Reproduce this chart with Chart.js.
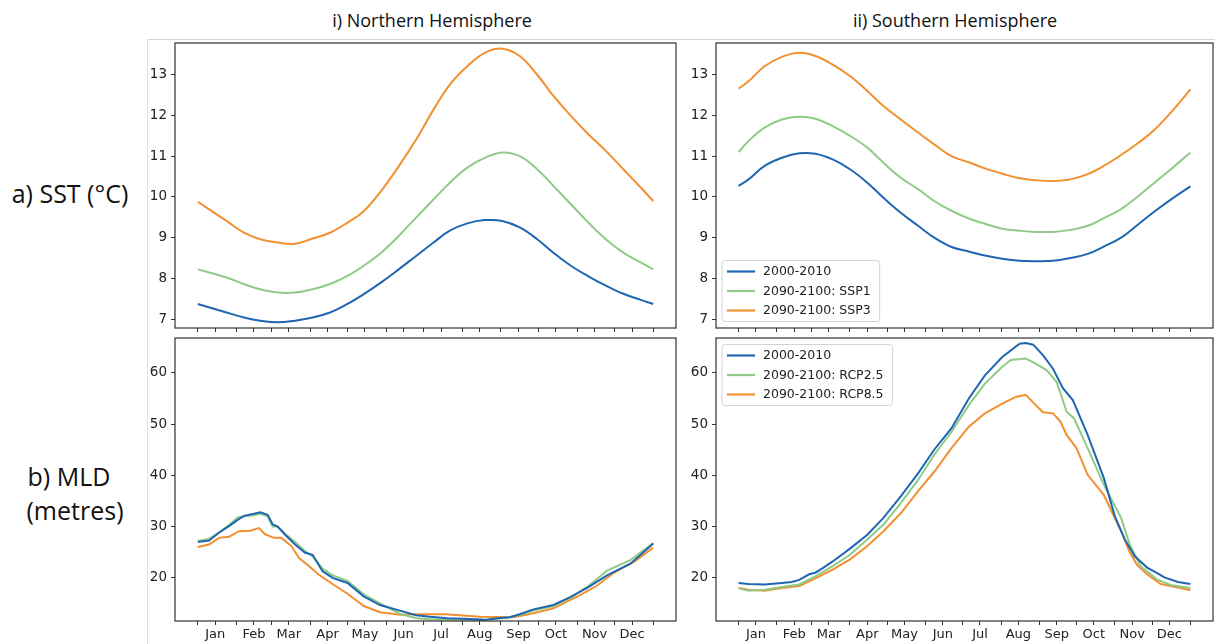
<!DOCTYPE html>
<html>
<head>
<meta charset="utf-8">
<script src="https://cdn.jsdelivr.net/npm/chart.js"></script>
<style>
  body { margin: 0; background: #fff; }
  #wrap { position: relative; width: 1215px; height: 644px; overflow: hidden; background: #fff; font-family: 'Open Sans', sans-serif; }
  canvas { position: absolute; }
  .txt { position: absolute; color: #111; white-space: nowrap; transform: translate(-50%, -50%); }
  .title { font-size: 18px; }
  .row { font-size: 25px; }
  .frameH { position: absolute; left: 147px; top: 39px; width: 1068px; height: 1px; background: #d6d6d6; }
  .frameV { position: absolute; left: 147px; top: 39px; width: 1px; height: 605px; background: #e2e2e2; }
</style>
</head>
<body>
<div id="wrap">
  <div class="frameH"></div>
  <div class="frameV"></div>
  <div class="txt title" style="left:432px; top:20px;">i) Northern Hemisphere</div>
  <div class="txt title" style="left:955px; top:20px;">ii) Southern Hemisphere</div>
  <div class="txt row" style="left:70px; top:193px;">a) SST (°C)</div>
  <div class="txt row" style="left:69px; top:476px;">b) MLD</div>
  <div class="txt row" style="left:75px; top:510px;">(metres)</div>
  <canvas id="sstNorth"></canvas>
  <canvas id="sstSouth"></canvas>
  <canvas id="mldNorth"></canvas>
  <canvas id="mldSouth"></canvas>
</div>
<script>
// axis ticks
const monthNames = ['Jan', 'Feb', 'Mar', 'Apr', 'May', 'Jun', 'Jul', 'Aug', 'Sep', 'Oct', 'Nov', 'Dec'];
const monthStarts = [0, 31, 59, 90, 120, 151, 181, 212, 243, 273, 304, 334, 365];
const monthMids = [14, 45, 73, 104, 134, 165, 195, 226, 257, 287, 318, 348];
const sstTicks = [7, 8, 9, 10, 11, 12, 13];
const mldTicks = [20, 30, 40, 50, 60];

const sstLabels = ['2000-2010', '2090-2100: SSP1', '2090-2100: SSP3'];
const mldLabels = ['2000-2010', '2090-2100: RCP2.5', '2090-2100: RCP8.5'];

// SST, northern hemisphere (day of year)
const nhSstDays = [0, 23, 37, 50, 64, 78, 92, 106, 120, 133, 147, 161, 175, 189, 202, 216, 230, 244, 258, 272, 285, 299, 313, 327, 341, 355, 365];
const nhSstBase = [7.37, 7.16, 7.04, 6.96, 6.92, 6.96, 7.04, 7.16, 7.37, 7.61, 7.9, 8.22, 8.55, 8.88, 9.17, 9.35, 9.43, 9.41, 9.25, 8.96, 8.63, 8.31, 8.05, 7.82, 7.62, 7.47, 7.37];
const nhSstSsp1 = [8.22, 8.02, 7.86, 7.73, 7.65, 7.65, 7.73, 7.86, 8.06, 8.31, 8.63, 9.04, 9.49, 9.94, 10.35, 10.72, 10.96, 11.09, 11.0, 10.68, 10.27, 9.82, 9.37, 8.96, 8.63, 8.39, 8.22];
const nhSstSsp3 = [9.88, 9.41, 9.12, 8.96, 8.88, 8.85, 8.98, 9.12, 9.37, 9.65, 10.15, 10.75, 11.41, 12.15, 12.76, 13.21, 13.54, 13.64, 13.46, 13.0, 12.48, 11.99, 11.54, 11.13, 10.68, 10.23, 9.9];

// SST, southern hemisphere
const shSstDays = [0, 8, 21, 35, 49, 62, 76, 90, 104, 117, 131, 145, 158, 172, 186, 199, 213, 227, 240, 254, 268, 282, 295, 309, 323, 336, 350, 365];
const shSstBase = [10.27, 10.43, 10.76, 10.96, 11.07, 11.06, 10.92, 10.68, 10.35, 9.98, 9.61, 9.29, 9.0, 8.77, 8.66, 8.56, 8.48, 8.43, 8.42, 8.43, 8.5, 8.6, 8.78, 9.0, 9.33, 9.64, 9.95, 10.26];
const shSstSsp1 = [11.1, 11.37, 11.7, 11.9, 11.97, 11.92, 11.74, 11.5, 11.21, 10.84, 10.47, 10.19, 9.9, 9.66, 9.47, 9.34, 9.22, 9.17, 9.14, 9.14, 9.19, 9.29, 9.48, 9.7, 10.02, 10.35, 10.7, 11.09];
const shSstSsp3 = [12.66, 12.84, 13.21, 13.44, 13.54, 13.46, 13.25, 12.97, 12.6, 12.23, 11.9, 11.58, 11.29, 11.0, 10.85, 10.7, 10.57, 10.46, 10.41, 10.39, 10.43, 10.56, 10.76, 11.03, 11.33, 11.65, 12.1, 12.64];

// MLD, northern hemisphere
const nhMldBaseDays = [0, 9, 17, 25, 32, 37, 45, 50, 56, 60, 64, 70, 78, 86, 92, 100, 108, 120, 133, 146, 162, 175, 186, 200, 213, 230, 240, 250, 258, 269, 285, 299, 313, 328, 347, 365];
const nhMldBase = [27.0, 27.3, 28.8, 30.1, 31.3, 32.1, 32.5, 32.8, 32.3, 30.4, 30.0, 28.4, 26.5, 24.9, 24.5, 21.3, 20.0, 19.0, 16.4, 14.7, 13.6, 12.7, 12.4, 12.1, 12.0, 11.8, 12.1, 12.3, 12.9, 13.85, 14.7, 16.3, 18.2, 20.5, 22.8, 26.7];
const nhMldRcp26 = [27.2, 27.6, 28.9, 30.3, 31.8, 32.0, 32.2, 32.5, 32.0, 30.0, 30.0, 28.6, 27.0, 25.2, 24.2, 21.8, 20.5, 19.4, 16.8, 15.0, 13.0, 12.1, 11.9, 11.8, 11.8, 11.8, 12.0, 12.3, 12.8, 13.6, 14.5, 16.2, 18.4, 21.4, 23.5, 26.8];
const nhMldRcp85Days = [0, 9, 17, 25, 33, 42, 49, 54, 61, 67, 75, 81, 89, 97, 108, 120, 133, 146, 162, 175, 199, 226, 253, 269, 285, 306, 320, 333, 350, 365];
const nhMldRcp85 = [26.0, 26.5, 27.8, 28.0, 29.1, 29.2, 29.7, 28.5, 27.8, 27.8, 26.2, 23.9, 22.3, 20.6, 18.8, 16.9, 14.5, 13.3, 12.8, 12.9, 12.9, 12.4, 12.3, 13.1, 14.05, 16.6, 18.5, 20.9, 23.2, 25.9];

// MLD, southern hemisphere
const shMldBaseDays = [0, 8, 21, 35, 43, 49, 57, 62, 68, 76, 90, 104, 117, 131, 145, 158, 172, 186, 199, 213, 227, 232, 238, 246, 254, 262, 270, 282, 295, 304, 312, 320, 330, 336, 344, 355, 365];
const shMldBase = [19.0, 18.8, 18.7, 19.0, 19.2, 19.6, 20.7, 21.0, 21.9, 23.2, 25.7, 28.4, 31.7, 35.9, 40.4, 45.0, 49.2, 55.0, 59.5, 63.1, 65.7, 65.8, 65.5, 63.4, 60.8, 57.0, 54.7, 47.9, 39.5, 32.0, 27.5, 24.2, 22.0, 21.2, 20.1, 19.2, 18.8];
const shMldRcp26Days = [0, 8, 21, 35, 49, 62, 76, 90, 104, 117, 131, 145, 158, 172, 186, 199, 213, 220, 232, 240, 249, 257, 265, 271, 282, 295, 309, 316, 325, 338, 349, 365];
const shMldRcp26 = [18.0, 17.5, 17.7, 18.2, 18.7, 20.3, 22.3, 24.5, 27.5, 30.4, 34.6, 39.1, 44.0, 48.5, 53.7, 57.9, 61.2, 62.5, 62.8, 61.8, 60.5, 58.2, 52.4, 51.1, 45.3, 38.2, 31.7, 26.5, 22.2, 19.7, 18.6, 18.0];
const shMldRcp85Days = [0, 8, 21, 35, 49, 62, 76, 90, 104, 117, 131, 145, 158, 172, 186, 199, 213, 224, 232, 240, 246, 254, 260, 265, 273, 282, 295, 309, 316, 322, 330, 341, 355, 365];
const shMldRcp85 = [18.0, 17.7, 17.5, 18.0, 18.4, 19.9, 21.6, 23.6, 26.2, 29.1, 32.6, 36.9, 40.7, 45.3, 49.5, 52.1, 54.0, 55.3, 55.7, 53.7, 52.3, 52.1, 50.5, 47.9, 45.3, 40.1, 36.2, 29.1, 25.0, 22.5, 20.7, 18.8, 18.1, 17.6];

const colors = ['#1f66b2', '#8fcb87', '#f28f30'];
const tickDays = monthStarts.concat(monthMids).sort((a, b) => a - b);

function toPoints(days, vals) {
  return days.map((d, i) => ({ x: d, y: vals[i] }));
}

// matplotlib style frame round the axes
const boxPlugin = {
  id: 'axesBox',
  afterDatasetsDraw(chart) {
    const { ctx, chartArea: a } = chart;
    ctx.save();
    ctx.strokeStyle = '#333';
    ctx.lineWidth = 1.2;
    ctx.strokeRect(a.left, a.top, a.right - a.left, a.bottom - a.top);
    ctx.restore();
  }
};

// legend drawn inside the axes, like matplotlib's
const innerLegend = {
  id: 'innerLegend',
  afterDraw(chart, args, opts) {
    if (!opts.corner) return;
    const { ctx, chartArea: a } = chart;
    const items = chart.data.datasets;
    ctx.save();
    ctx.font = '12.5px "DejaVu Sans"';
    const textW = Math.max(...items.map(d => ctx.measureText(d.label).width));
    const rowH = 19.5;
    const w = 41 + textW + 9;
    const h = 22 + (items.length - 1) * rowH;
    const x = a.left + 6;
    const y = opts.corner === 'top' ? a.top + 6.5 : a.bottom - 6.5 - h;
    ctx.beginPath();
    ctx.roundRect(x, y, w, h, 3);
    ctx.fillStyle = 'rgba(255,255,255,0.85)';
    ctx.fill();
    ctx.strokeStyle = '#d4d4d4';
    ctx.lineWidth = 1;
    ctx.stroke();
    items.forEach((d, i) => {
      const cy = y + 11 + i * rowH;
      ctx.strokeStyle = d.borderColor;
      ctx.lineWidth = 2.2;
      ctx.beginPath();
      ctx.moveTo(x + 5, cy);
      ctx.lineTo(x + 33, cy);
      ctx.stroke();
      ctx.fillStyle = '#222';
      ctx.textBaseline = 'middle';
      ctx.fillText(d.label, x + 41, cy + 0.5);
    });
    ctx.restore();
  }
};

function makePanel(id, pos, series, labels, yMin, yMax, yTicks, showMonths, corner, smooth) {
  const canvas = document.getElementById(id);
  canvas.width = pos.w;
  canvas.height = pos.h;
  canvas.style.left = pos.x + 'px';
  canvas.style.top = pos.y + 'px';
  canvas.style.width = pos.w + 'px';
  canvas.style.height = pos.h + 'px';

  const tickFont = { family: 'DejaVu Sans', size: 13.5 };

  new Chart(canvas, {
    type: 'line',
    data: {
      datasets: series.map((s, i) => ({
        label: labels[i],
        data: toPoints(s[0], s[1]),
        borderColor: colors[i],
        borderWidth: 2,
        pointRadius: 0,
        fill: false,
        tension: smooth ? 0.4 : 0
      }))
    },
    options: {
      responsive: false,
      animation: false,
      events: [],
      layout: { padding: { top: pos.padTop, right: pos.padRight, left: 0, bottom: 0 } },
      plugins: {
        legend: { display: false },
        tooltip: { enabled: false },
        innerLegend: { corner: corner }
      },
      scales: {
        x: {
          type: 'linear',
          min: -18.25,
          max: 383.25,
          afterBuildTicks: s => { s.ticks = tickDays.map(v => ({ value: v })); },
          afterFit: s => { s.height = pos.xAxisH; s.paddingLeft = 0; s.paddingRight = 0; },
          ticks: {
            autoSkip: false,
            maxRotation: 0,
            minRotation: 0,
            padding: 2,
            color: '#222',
            font: { family: 'DejaVu Sans', size: 13 },
            callback: v => {
              const k = monthMids.indexOf(v);
              return showMonths && k >= 0 ? monthNames[k] : '';
            }
          },
          grid: { drawOnChartArea: false, drawTicks: true, tickLength: 4, color: '#333' },
          border: { display: false }
        },
        y: {
          min: yMin,
          max: yMax,
          afterBuildTicks: s => { s.ticks = yTicks.map(v => ({ value: v })); },
          afterFit: s => { s.width = 40; s.paddingTop = 0; s.paddingBottom = 0; },
          ticks: { padding: 4, color: '#222', font: tickFont },
          grid: { drawOnChartArea: false, drawTicks: true, tickLength: 4, color: '#333' },
          border: { display: false }
        }
      }
    },
    plugins: [boxPlugin, innerLegend]
  });
}

const topLeft = { x: 135, y: 38, w: 548, h: 296, padTop: 5, padRight: 7, xAxisH: 6 };
const topRight = { x: 676, y: 38, w: 539, h: 296, padTop: 5, padRight: 2, xAxisH: 6 };
const botLeft = { x: 135, y: 333, w: 548, h: 311, padTop: 5, padRight: 7, xAxisH: 23 };
const botRight = { x: 676, y: 333, w: 539, h: 311, padTop: 5, padRight: 2, xAxisH: 23 };

makePanel('sstNorth', topLeft,
  [[nhSstDays, nhSstBase], [nhSstDays, nhSstSsp1], [nhSstDays, nhSstSsp3]],
  sstLabels, 6.78, 13.78, sstTicks, false, null, true);
makePanel('sstSouth', topRight,
  [[shSstDays, shSstBase], [shSstDays, shSstSsp1], [shSstDays, shSstSsp3]],
  sstLabels, 6.78, 13.78, sstTicks, false, 'bottom', true);
makePanel('mldNorth', botLeft,
  [[nhMldBaseDays, nhMldBase], [nhMldBaseDays, nhMldRcp26], [nhMldRcp85Days, nhMldRcp85]],
  mldLabels, 11.58, 66.8, mldTicks, true, null, false);
makePanel('mldSouth', botRight,
  [[shMldBaseDays, shMldBase], [shMldRcp26Days, shMldRcp26], [shMldRcp85Days, shMldRcp85]],
  mldLabels, 11.58, 66.8, mldTicks, true, 'top', false);
</script>
</body>
</html>
